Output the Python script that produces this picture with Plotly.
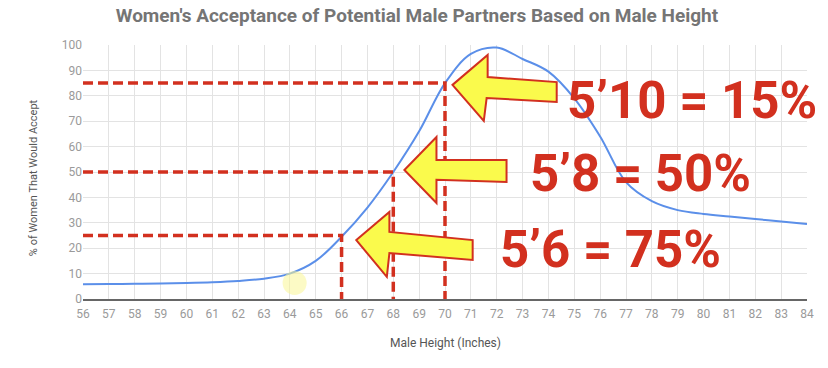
import plotly.graph_objects as go

# ---- data ----
heights = list(range(56, 85))
accept_pct = [5.8, 5.9, 6.0, 6.1, 6.3, 6.6, 7.1, 8.0, 10.0, 15.0, 24.5, 36.0, 50.0, 66.0, 85.0,
              96.5, 99.0, 94.5, 89.5, 79.0, 64.0, 46.0, 38.5, 35.0, 33.5, 32.5, 31.5, 30.5, 29.5]
marker_heights = [66, 68, 70]
marker_pct = [25, 50, 85]
marker_labels = ["5’6 = 75%", "5’8 = 50%", "5’10 = 15%"]
x_ticks = list(range(56, 85))
y_ticks = list(range(0, 101, 10))

RED = "#d2301f"
YELLOW = "#fafa4c"

fig = go.Figure()

# main curve
fig.add_trace(go.Scatter(x=heights, y=accept_pct, mode="lines",
                         line=dict(color="#5b8fe9", width=2, shape="spline"),
                         hoverinfo="skip", showlegend=False))

# dashed guide lines
for h, p in zip(marker_heights, marker_pct):
    fig.add_trace(go.Scatter(x=[heights[0], h, h], y=[p, p, 0], mode="lines",
                             line=dict(color=RED, width=3.5, dash="10px,5px"),
                             hoverinfo="skip", showlegend=False, cliponaxis=False))

# arrow shapes (decorations, data coords)
arrows = [
    # 5'6
    [(66.57, 23.2), (67.85, 34.3), (67.85, 26.4), (71.07, 23.2), (71.07, 15.4), (67.85, 18.1), (67.75, 8.7)],
    # 5'8
    [(68.43, 50.8), (69.67, 63.8), (69.67, 54.7), (72.38, 54.7), (72.38, 46.1), (69.67, 46.9), (69.67, 37.8)],
    # 5'10
    [(70.29, 84.3), (71.65, 96.1), (71.65, 87.4), (74.32, 85.4), (74.32, 77.6), (71.61, 79.1), (71.5, 70.1)],
]
shapes = []
for pts in arrows:
    path = "M " + " L ".join(f"{x},{y}" for x, y in pts) + " Z"
    shapes.append(dict(type="path", path=path, xref="x", yref="y",
                       fillcolor=YELLOW, line=dict(color=RED, width=2), layer="above"))
# cursor highlight
shapes.append(dict(type="circle", xref="x", yref="y", x0=63.72, x1=64.65, y0=1.6, y1=11.0,
                   fillcolor="rgba(250,245,150,0.55)", line=dict(width=0), layer="above"))

text_pos = [(72.05, 19.3), (73.2, 49.6), (74.65, 78.3)]
annotations = []
for (tx, ty), lab in zip(text_pos, marker_labels):
    annotations.append(dict(x=tx, y=ty, xref="x", yref="y", text=lab, showarrow=False,
                            xanchor="left", yanchor="middle",
                            font=dict(family="Roboto", size=51, color=RED, weight="bold")))
annotations.append(dict(x=0.5, y=-0.173, xref="paper", yref="paper", text="Male Height (Inches)",
                        showarrow=False, xanchor="center", yanchor="middle",
                        font=dict(family="Roboto", size=12, color="#555555")))
annotations.append(dict(x=-0.069, y=0.476, xref="paper", yref="paper", text="% of Women That Would Accept",
                        showarrow=False, xanchor="center", yanchor="middle", textangle=-90,
                        font=dict(family="Roboto", size=11, color="#555555")))

fig.update_layout(
    width=828, height=368,
    margin=dict(l=83, r=21, t=45, b=69),
    paper_bgcolor="white", plot_bgcolor="white",
    title=dict(text="Women's Acceptance of Potential Male Partners Based on Male Height",
               x=417 / 828, xanchor="center", y=1 - 15 / 368, yanchor="middle",
               font=dict(family="Roboto", size=19, color="#757575", weight="bold")),
    xaxis=dict(range=[56, 84], tickvals=x_ticks, showgrid=True, gridcolor="#e3e3e3", gridwidth=1,
               showline=True, linecolor="#666666", linewidth=1.5, zeroline=False,
               tickfont=dict(family="Roboto", size=12, color="#9a9a9a"), ticks="",
               ticklabelstandoff=3, mirror=False),
    yaxis=dict(range=[0, 100], tickvals=y_ticks, showgrid=True, gridcolor="#e3e3e3", gridwidth=1,
               zeroline=False, showline=False,
               tickfont=dict(family="Roboto", size=12, color="#9a9a9a"), ticks=""),
    shapes=shapes,
    annotations=annotations,
)

fig.write_html("out.html")
